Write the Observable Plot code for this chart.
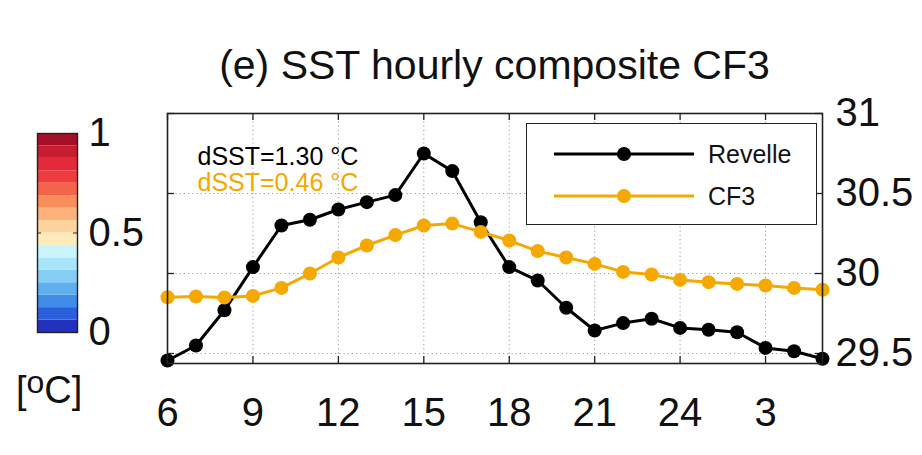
<!DOCTYPE html>
<html>
<head>
<meta charset="utf-8">
<script src="https://cdn.jsdelivr.net/npm/d3@7"></script>
<script src="https://cdn.jsdelivr.net/npm/@observablehq/plot@0.6"></script>
<style>
  html, body { margin: 0; padding: 0; background: #fff; }
  #wrap { position: relative; width: 922px; height: 455px; overflow: hidden; font-family: "Liberation Sans", Arial, Helvetica, sans-serif; color: #111; }
  .abs { position: absolute; }
  #title { left: 0; width: 989px; top: 42px; text-align: center; font-size: 41px; line-height: 46px; white-space: nowrap; }
  #unit { left: 16px; top: 368px; font-size: 38px; line-height: 44px; }
  #unit sup { font-size: 32px; position: relative; top: -8px; vertical-align: top; }
  #legend { left: 526px; top: 123px; width: 289px; height: 100px; border: 1.6px solid #222; background: #fff; }
  #legend .item { position: absolute; left: 0; font-size: 25px; }
</style>
</head>
<body>
<div id="wrap">
  <div id="title" class="abs">(e) SST hourly composite CF3</div>
  <div id="plot" class="abs" style="left:0;top:0"></div>
  <div id="cbar" class="abs" style="left:37px;top:133px"></div>
  <div id="unit" class="abs">[<sup>o</sup>C]</div>
  <div id="legend" class="abs"></div>
</div>
<script>
// ---- data ----
const hours = [6,7,8,9,10,11,12,13,14,15,16,17,18,19,20,21,22,23,24,25,26,27,28,29];
const revelle = [29.456,29.55,29.77,30.04,30.30,30.336,30.40,30.446,30.49,30.75,30.64,30.32,30.04,29.956,29.786,29.644,29.69,29.717,29.66,29.648,29.633,29.535,29.514,29.467];
const cf3 = [29.852,29.856,29.85,29.86,29.91,30.0,30.10,30.175,30.24,30.30,30.312,30.26,30.206,30.14,30.10,30.06,30.01,29.994,29.96,29.946,29.935,29.925,29.91,29.898];
const seriesNames = ["Revelle", "CF3"];
const seriesColors = ["#000000", "#f4a800"];
const xTicks = [6,9,12,15,18,21,24,27];
const xTickLabels = ["6","9","12","15","18","21","24","3"];
const yTicks = [29.5,30,30.5,31];
const dsstLabels = ["dSST=1.30 °C", "dSST=0.46 °C"];
const cbarColors = ["#2431be","#2b5fdc","#3f8de8","#5eaef0","#86cdf5","#a9e5f9","#c9f4fc","#fdebbb","#fdd59c","#fcb27a","#f98d5b","#f4644a","#ef3c3c","#e22a3a","#c81d31","#a60f27"];
const cbarTicks = [0, 0.5, 1];
const cbarTickLabels = ["0", "0.5", "1"];

const rows = (ys, name) => hours.map((h, i) => ({hour: h, sst: ys[i], series: name}));
const dataRev = rows(revelle, seriesNames[0]);
const dataCF3 = rows(cf3, seriesNames[1]);

const W = 922, H = 455;
const mL = 167, mR = 100, mT = 113, mB = 92;
const innerW = W - mL - mR, innerH = H - mT - mB;
const tick = 7;
const font = '"Liberation Sans", Arial, Helvetica, sans-serif';

const main = Plot.plot({
  width: W, height: H,
  marginLeft: mL, marginRight: mR, marginTop: mT, marginBottom: mB,
  style: {fontFamily: font, background: "transparent", color: "#111", overflow: "visible"},
  x: {domain: [6, 29]},
  y: {domain: [29.4375, 31]},
  marks: [
    Plot.ruleX(xTicks.slice(1), {x: d => d, stroke: "#9a9a9a", strokeWidth: 1, strokeDasharray: "1.2,3"}),
    Plot.ruleY(yTicks.slice(0, 3), {y: d => d, stroke: "#9a9a9a", strokeWidth: 1, strokeDasharray: "1.2,3"}),
    // inward ticks
    Plot.ruleX(xTicks, {x: d => d, insetTop: innerH - tick, stroke: "#222", strokeWidth: 1.3}),
    Plot.ruleX(xTicks, {x: d => d, insetBottom: innerH - tick, stroke: "#222", strokeWidth: 1.3}),
    Plot.ruleY(yTicks, {y: d => d, insetRight: innerW - tick, stroke: "#222", strokeWidth: 1.3}),
    Plot.ruleY(yTicks, {y: d => d, insetLeft: innerW - tick, stroke: "#222", strokeWidth: 1.3}),
    Plot.axisX({ticks: xTicks, tickSize: 0, tickPadding: 34, fontSize: 40, label: null,
      tickFormat: d => xTickLabels[xTicks.indexOf(d)]}),
    Plot.axisY({anchor: "right", ticks: yTicks, tickSize: 0, tickPadding: 13, fontSize: 40, label: null,
      tickFormat: d => String(d)}),
    Plot.line(dataRev, {x: "hour", y: "sst", stroke: seriesColors[0], strokeWidth: 3}),
    Plot.dot(dataRev, {x: "hour", y: "sst", r: 7, fill: seriesColors[0], stroke: "none"}),
    Plot.line(dataCF3, {x: "hour", y: "sst", stroke: seriesColors[1], strokeWidth: 3}),
    Plot.dot(dataCF3, {x: "hour", y: "sst", r: 7, fill: seriesColors[1], stroke: "none"}),
    Plot.text([dsstLabels[0]], {text: d => d, frameAnchor: "top-left", dx: 30, dy: 51, lineAnchor: "bottom", textAnchor: "start", fontSize: 25, fill: seriesColors[0]}),
    Plot.text([dsstLabels[1]], {text: d => d, frameAnchor: "top-left", dx: 30, dy: 77, lineAnchor: "bottom", textAnchor: "start", fontSize: 25, fill: seriesColors[1]}),
    Plot.frame({stroke: "#222", strokeWidth: 1.6})
  ]
});
document.getElementById("plot").appendChild(main);

// ---- colorbar ----
const n = cbarColors.length;
const bands = cbarColors.map((c, i) => ({y1: i / n, y2: (i + 1) / n, color: c}));
const cbW = 40, cbH = 199, cbPadT = 20;
const cbar = Plot.plot({
  width: cbW + 100, height: cbH + 2 * cbPadT,
  marginLeft: 0, marginRight: 100, marginTop: cbPadT, marginBottom: cbPadT,
  style: {fontFamily: font, background: "transparent", color: "#111", overflow: "visible"},
  x: {domain: [0, 1], axis: null},
  y: {domain: [0, 1]},
  marks: [
    Plot.rect(bands, {x1: 0, x2: 1, y1: "y1", y2: "y2", fill: "color"}),
    Plot.ruleY([0.5], {y: d => d, insetRight: cbW - 4, stroke: "#222"}),
    Plot.ruleY([0.5], {y: d => d, insetLeft: cbW - 4, stroke: "#222"}),
    Plot.axisY({anchor: "right", ticks: cbarTicks, tickSize: 0, tickPadding: 11, fontSize: 40, label: null,
      tickFormat: d => cbarTickLabels[cbarTicks.indexOf(d)]}),
    Plot.frame({stroke: "#222", strokeWidth: 1.4})
  ]
});
cbar.style.marginTop = (-cbPadT) + "px";
cbar.style.display = "block";
document.getElementById("cbar").appendChild(cbar);

// ---- legend ----
const legend = document.getElementById("legend");
const legendRows = [{top: 30}, {top: 72}];
seriesNames.forEach((name, i) => {
  const row = document.createElement("div");
  row.className = "item";
  row.style.top = (legendRows[i].top - 16) + "px";
  row.style.width = "289px";
  row.style.height = "32px";
  const ns = "http://www.w3.org/2000/svg";
  const svg = document.createElementNS(ns, "svg");
  svg.setAttribute("width", "170"); svg.setAttribute("height", "32");
  svg.style.position = "absolute"; svg.style.left = "0"; svg.style.top = "0";
  const ln = document.createElementNS(ns, "line");
  ln.setAttribute("x1", 27); ln.setAttribute("x2", 167); ln.setAttribute("y1", 16); ln.setAttribute("y2", 16);
  ln.setAttribute("stroke", seriesColors[i]); ln.setAttribute("stroke-width", 3);
  const c = document.createElementNS(ns, "circle");
  c.setAttribute("cx", 97); c.setAttribute("cy", 16); c.setAttribute("r", 7); c.setAttribute("fill", seriesColors[i]);
  svg.appendChild(ln); svg.appendChild(c);
  row.appendChild(svg);
  const t = document.createElement("span");
  t.textContent = name;
  t.style.position = "absolute"; t.style.left = "181px"; t.style.top = "1px"; t.style.lineHeight = "30px";
  row.appendChild(t);
  legend.appendChild(row);
});
</script>
</body>
</html>
